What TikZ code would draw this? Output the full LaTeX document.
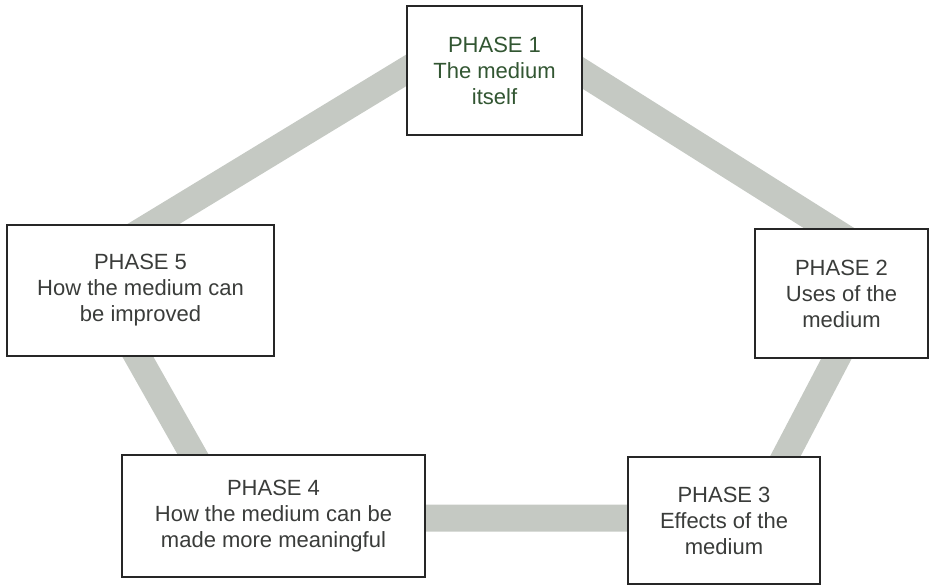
\documentclass[tikz,border=0pt]{standalone}
\usepackage{fontspec}
\setmainfont{Liberation Sans}
\definecolor{bandgray}{RGB}{197,201,195}
\definecolor{ink}{RGB}{58,60,58}
\definecolor{greenink}{RGB}{50,86,50}
\tikzset{
  phase/.style={draw=black!85, line width=1.6pt, fill=white, align=center,
    text=ink, inner sep=0pt, font=\fontsize{22}{26}\selectfont},
  band/.style={draw=bandgray, line width=27pt, line join=bevel}
}

\begin{document}
\begin{tikzpicture}[x=1pt,y=-1pt]
      \useasboundingbox (0,0) rectangle (930,585);

      % corners of the ring behind the boxes
      \coordinate (c1) at (494,17);
      \coordinate (c2) at (886,264);
      \coordinate (c3) at (753,518);
      \coordinate (c4) at (229,518);
      \coordinate (c5) at (86,265);
      \draw[band] (c1) -- (c2) -- (c3) -- (c4) -- (c5) -- cycle;

      \node[phase, text=greenink, minimum width=175pt, minimum height=129pt] (p1) at (494.5,70.5)
        {PHASE 1\\The medium\\itself};
      \node[phase, minimum width=173pt, minimum height=129pt] (p2) at (841.5,293.5)
        {PHASE 2\\Uses of the\\medium};
      \node[phase, minimum width=192pt, minimum height=127pt] (p3) at (724,520.5)
        {PHASE 3\\Effects of the\\medium};
      \node[phase, minimum width=303pt, minimum height=122pt] (p4) at (273.5,516)
        {PHASE 4\\How the medium can be\\made more meaningful};
      \node[phase, minimum width=267pt, minimum height=131pt] (p5) at (140.5,290.5)
        {PHASE 5\\How the medium can\\be improved};
    \end{tikzpicture}
\end{document}
